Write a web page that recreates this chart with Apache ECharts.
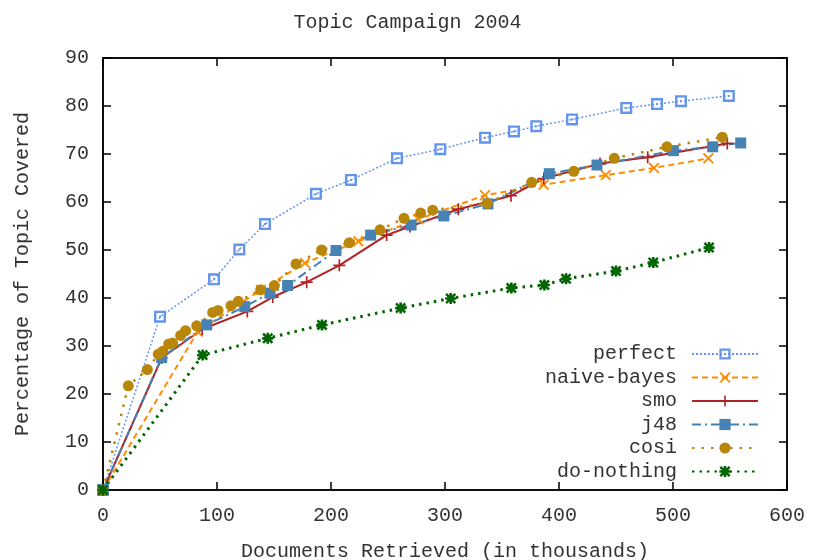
<!DOCTYPE html>
<html>
<head>
<meta charset="utf-8">
<script src="https://cdn.jsdelivr.net/npm/echarts@6/dist/echarts.min.js"></script>
<style>html,body{margin:0;padding:0;background:#fff}#c{width:815px;height:560px}</style>
</head>
<body>
<div id="c"></div>
<script>
// ---- data (x in thousands of documents, y in % of topic covered) ----
const seriesNames = ['perfect', 'naive-bayes', 'smo', 'j48', 'cosi', 'do-nothing'];

const perfectX = [0, 50, 97.4, 119.6, 142.1, 186.8, 217.5, 257.9, 295.9, 335.1, 360.5, 380.1, 411.4, 459, 486, 507, 549];
const perfectY = [0, 36.1, 43.9, 50.1, 55.4, 61.7, 64.6, 69.1, 71.0, 73.4, 74.7, 75.8, 77.2, 79.6, 80.4, 81.0, 82.1];

const naiveX = [0, 83, 138.6, 177.2, 224, 276.6, 335, 386.5, 441, 483.3, 531];
const naiveY = [0, 33.0, 41.7, 47.3, 51.8, 56.4, 61.4, 63.6, 65.6, 67.1, 69.1];

const smoX = [0, 51.5, 87, 126.6, 148.9, 178.7, 207.3, 248.8, 269.3, 311.7, 357.9, 386.7, 436, 477.8, 547.6];
const smoY = [0, 27.5, 33.5, 37.2, 40.2, 43.3, 46.8, 53.1, 54.9, 58.5, 61.3, 64.9, 68.0, 69.3, 72.2];

const j48X = [0, 51.5, 91, 124.3, 146.5, 162, 204.4, 234.8, 270.2, 299, 337.7, 391.5, 433.3, 500.3, 534.8, 559.4];
const j48Y = [0, 27.6, 34.4, 38.2, 41.0, 42.6, 49.9, 53.1, 55.2, 57.1, 59.6, 65.9, 67.7, 70.7, 71.5, 72.3];

const cosiX = [0, 22.2, 38.9, 48.5, 52.4, 57.6, 61.1, 68.1, 72.5, 82.2, 96.2, 100.9, 112.3, 118.7, 138.3, 150.3, 169.3, 191.8, 216, 243, 264, 278.7, 289.2, 337.1, 376, 413, 448.5, 494.7, 543.2];
const cosiY = [0, 21.7, 25.1, 28.3, 28.9, 30.4, 30.6, 32.2, 33.2, 34.2, 37.0, 37.4, 38.4, 39.3, 41.7, 42.6, 47.1, 50.0, 51.5, 54.2, 56.6, 57.7, 58.3, 59.7, 64.1, 66.4, 69.1, 71.5, 73.5];

const nothingX = [0, 87.4, 144.5, 192.1, 261.1, 305, 358.2, 387.2, 406.2, 450, 482.7, 531.6];
const nothingY = [0, 28.1, 31.6, 34.4, 37.9, 39.9, 42.1, 42.7, 44.0, 45.6, 47.4, 50.5];

const xTicks = [0, 100, 200, 300, 400, 500, 600];
const yTicks = [0, 10, 20, 30, 40, 50, 60, 70, 80, 90];

// ---- build ----
const zip = (xs, ys) => xs.map((x, i) => [x, ys[i]]);
const FONT = "'Liberation Mono', 'DejaVu Sans Mono', monospace";
const TXT = '#333';

const SYM_OPEN_SQ = 'path://M0,0 L10,0 L10,10 L0,10 Z M2,2 L2,8 L8,8 L8,2 Z M4.2,4.2 L5.8,4.2 L5.8,5.8 L4.2,5.8 Z';
const SYM_X = 'path://M0,1.2 L1.2,0 L5,3.8 L8.8,0 L10,1.2 L6.2,5 L10,8.8 L8.8,10 L5,6.2 L1.2,10 L0,8.8 L3.8,5 Z';
const SYM_PLUS = 'path://M4.3,0 L5.7,0 L5.7,4.3 L10,4.3 L10,5.7 L5.7,5.7 L5.7,10 L4.3,10 L4.3,5.7 L0,5.7 L0,4.3 L4.3,4.3 Z';
const SYM_STAR = 'path://M3.8,0 L6.2,0 L6.2,3.8 L10,3.8 L10,6.2 L6.2,6.2 L6.2,10 L3.8,10 L3.8,6.2 L0,6.2 L0,3.8 L3.8,3.8 Z M0,1.6 L1.6,0 L5,3.4 L8.4,0 L10,1.6 L6.6,5 L10,8.4 L8.4,10 L5,6.6 L1.6,10 L0,8.4 L3.4,5 Z';

function mk(name, data, color, symbol, size, lw, type) {
  return {
    name, type: 'line', data, symbol, symbolSize: size, showSymbol: true,
    lineStyle: { color, width: lw, type },
    itemStyle: { color },
    emphasis: { disabled: true },
    animation: false, z: 3
  };
}

const series = [
  mk(seriesNames[0], zip(perfectX, perfectY), '#6495ED', SYM_OPEN_SQ, 12, 1.5, [2, 2]),
  mk(seriesNames[1], zip(naiveX, naiveY), '#FF8C00', SYM_X, 11, 2, [6, 4]),
  mk(seriesNames[2], zip(smoX, smoY), '#B22222', SYM_PLUS, 12, 2, 'solid'),
  mk(seriesNames[3], zip(j48X, j48Y), '#4682B4', 'rect', 11, 2, [9, 4, 2, 4]),
  mk(seriesNames[4], zip(cosiX, cosiY), '#B8860B', 'circle', 11, 2.5, [2.5, 7]),
  mk(seriesNames[5], zip(nothingX, nothingY), '#006400', SYM_STAR, 11, 3, [2.5, 5])
];

function axisParts() {
  return {
    axisLine: { show: true, onZero: false, lineStyle: { color: '#000', width: 1.5 } },
    splitLine: { show: false },
    axisTick: { show: true, inside: true, length: 8, lineStyle: { color: '#000', width: 1.5 } }
  };
}

const chart = echarts.init(document.getElementById('c'), null, { renderer: 'canvas' });
chart.setOption({
  animation: false,
  backgroundColor: '#fff',
  title: {
    text: 'Topic Campaign 2004', left: 'center', top: 8,
    textStyle: { fontFamily: FONT, fontSize: 20, fontWeight: 'normal', color: TXT }
  },
  grid: { left: 103, right: 28, top: 58, bottom: 70, containLabel: false, outerBoundsMode: 'none', show: true, borderColor: '#000', borderWidth: 1.5, backgroundColor: 'transparent' },
  legend: {
    orient: 'vertical', right: 51, top: 339, align: 'right',
    itemWidth: 66, itemHeight: 14, itemGap: 3.5,
    data: seriesNames,
    textStyle: { fontFamily: FONT, fontSize: 20, color: TXT, lineHeight: 20, padding: [0, 10, 0, 0] },
    selectedMode: false
  },
  xAxis: [
    Object.assign(axisParts(), {
      type: 'value', position: 'bottom', min: xTicks[0], max: xTicks[xTicks.length - 1], interval: xTicks[1] - xTicks[0],
      name: 'Documents Retrieved (in thousands)', nameLocation: 'middle', nameGap: 52,
      nameTextStyle: { fontFamily: FONT, fontSize: 20, color: TXT },
      axisLabel: { fontFamily: FONT, fontSize: 20, color: TXT, margin: 16 }
    }),
    Object.assign(axisParts(), {
      type: 'value', position: 'top', min: xTicks[0], max: xTicks[xTicks.length - 1], interval: xTicks[1] - xTicks[0],
      axisLabel: { show: false }
    })
  ],
  yAxis: [
    Object.assign(axisParts(), {
      type: 'value', position: 'left', min: yTicks[0], max: yTicks[yTicks.length - 1], interval: yTicks[1] - yTicks[0],
      name: 'Percentage of Topic Covered', nameLocation: 'middle', nameGap: 70, nameRotate: 90,
      nameTextStyle: { fontFamily: FONT, fontSize: 20, color: TXT },
      axisLabel: { fontFamily: FONT, fontSize: 20, color: TXT, margin: 14 }
    }),
    Object.assign(axisParts(), {
      type: 'value', position: 'right', min: yTicks[0], max: yTicks[yTicks.length - 1], interval: yTicks[1] - yTicks[0],
      axisLabel: { show: false }
    })
  ],
  series
});
</script>
</body>
</html>
